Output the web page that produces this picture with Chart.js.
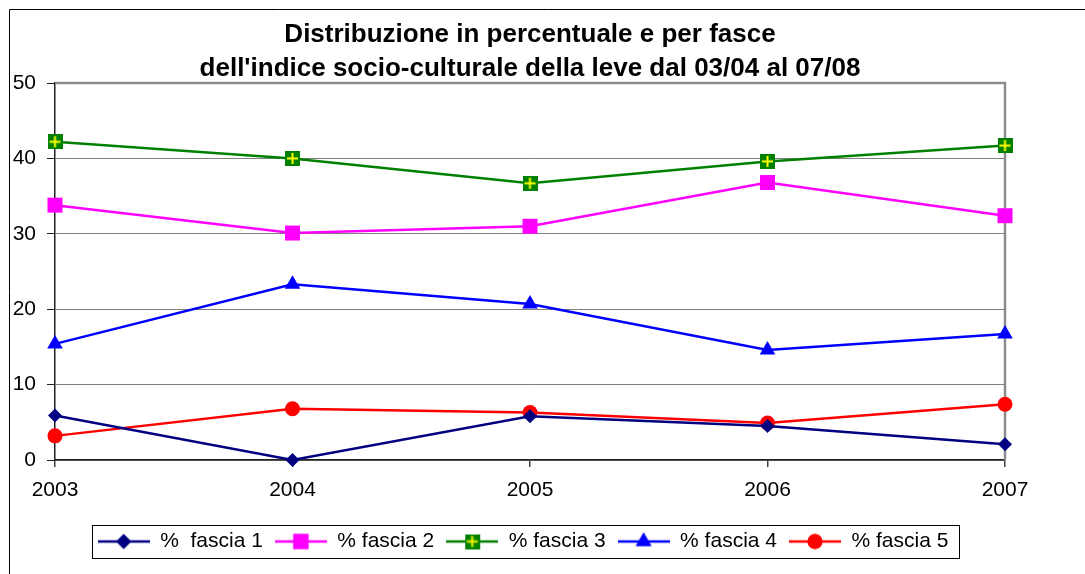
<!DOCTYPE html>
<html>
<head>
<meta charset="utf-8">
<script src="https://cdn.jsdelivr.net/npm/chart.js@4/dist/chart.umd.min.js"></script>
<style>
  html, body { margin: 0; padding: 0; background: #fff; }
  canvas { display: block; }
</style>
</head>
<body>
<canvas id="chart" width="1085" height="574"></canvas>
<script>
// ─── DATI ───
const years = ['2003', '2004', '2005', '2006', '2007'];
const fascia1 = [5.9, 0, 5.8, 4.5, 2.1];
const fascia2 = [33.8, 30.1, 31.0, 36.8, 32.4];
const fascia3 = [42.2, 40.0, 36.7, 39.6, 41.7];
const fascia4 = [15.4, 23.3, 20.7, 14.6, 16.7];
const fascia5 = [3.2, 6.8, 6.3, 4.9, 7.4];
const seriesLabels = ['%  fascia 1', '% fascia 2', '% fascia 3', '% fascia 4', '% fascia 5'];
const titleLines = ['Distribuzione in percentuale e per fasce', "dell'indice socio-culturale della leve dal 03/04 al 07/08"];

const FONT = "'Liberation Sans', Arial, sans-serif";
Chart.defaults.font.family = FONT;
Chart.defaults.color = '#000';

// marker quadrato verde con croce gialla
function crossSquare(size) {
  const c = document.createElement('canvas');
  c.width = size; c.height = size;
  const g = c.getContext('2d');
  g.fillStyle = '#008000';
  g.fillRect(0, 0, size, size);
  g.strokeStyle = '#FFFF00';
  g.lineWidth = 2;
  g.beginPath();
  g.moveTo(size / 2, 2); g.lineTo(size / 2, size - 2);
  g.moveTo(2, size / 2); g.lineTo(size - 2, size / 2);
  g.stroke();
  return c;
}

const crossMarker = crossSquare(15);

// icona legenda: linea con marker al centro
function legendIcon(color, style, radius) {
  const w = 52, h = 22;
  const c = document.createElement('canvas');
  c.width = w; c.height = h;
  const g = c.getContext('2d');
  g.strokeStyle = color;
  g.lineWidth = 2.5;
  g.beginPath();
  g.moveTo(0, h / 2); g.lineTo(w, h / 2);
  g.stroke();
  if (style === 'cross') {
    g.drawImage(crossMarker, w / 2 - 7.5, h / 2 - 7.5);
  } else {
    g.fillStyle = color;
    Chart.helpers.drawPoint(g, { pointStyle: style, radius, borderWidth: 0, rotation: 0 }, w / 2, h / 2);
    g.fill();
  }
  return c;
}

const legendIcons = [
  legendIcon('#000080', 'rectRot', 7.5),
  legendIcon('#FF00FF', 'rect', 10.6),
  legendIcon('#008000', 'cross', 0),
  legendIcon('#0000FF', 'triangle', 9),
  legendIcon('#FF0000', 'circle', 7.5)
];

function serie(label, data, color, pointStyle, radius) {
  return {
    label, data,
    borderColor: color,
    backgroundColor: color,
    pointBackgroundColor: color,
    pointBorderColor: color,
    pointBorderWidth: 0,
    borderWidth: 2.5,
    pointStyle,
    pointRadius: radius,
    pointHoverRadius: radius,
    tension: 0,
    clip: false
  };
}

const frames = {
  id: 'frames',
  afterLayout(chart) {
    // la legenda nell'originale sta un po' a sinistra
    chart.legend.left -= 7;
    chart.legend.right -= 7;
  },
  beforeDatasetsDraw(chart) {
    const { ctx, chartArea: a } = chart;
    ctx.save();
    ctx.strokeStyle = '#8c8c8c';
    ctx.lineWidth = 2.5;
    ctx.beginPath();
    ctx.moveTo(a.left, a.top);
    ctx.lineTo(a.right, a.top);
    ctx.lineTo(a.right, a.bottom);
    ctx.stroke();
    ctx.restore();
  },
  afterDraw(chart) {
    const { ctx } = chart;
    ctx.save();
    ctx.strokeStyle = '#000';
    ctx.lineWidth = 1;
    ctx.beginPath();
    ctx.moveTo(9.5, chart.height);
    ctx.lineTo(9.5, 9.5);
    ctx.lineTo(chart.width, 9.5);
    ctx.stroke();
    // riquadro legenda
    const hb = chart.legend.legendHitBoxes;
    if (hb && hb.length) {
      const left = Math.min(...hb.map(b => b.left)) - 6;
      const right = Math.max(...hb.map(b => b.left + b.width)) + 10;
      const top = hb[0].top - 6;
      const bottom = hb[0].top + hb[0].height + 6;
      ctx.strokeRect(Math.round(left) + 0.5, Math.round(top) + 0.5, Math.round(right - left), Math.round(bottom - top));
    }
    ctx.restore();
  }
};

new Chart(document.getElementById('chart'), {
  type: 'line',
  data: {
    labels: years,
    datasets: [
      serie(seriesLabels[0], fascia1, '#000080', 'rectRot', 7),
      serie(seriesLabels[1], fascia2, '#FF00FF', 'rect', 10.6),
      serie(seriesLabels[2], fascia3, '#008000', crossMarker, 7.5),
      serie(seriesLabels[3], fascia4, '#0000FF', 'triangle', 9),
      serie(seriesLabels[4], fascia5, '#FF0000', 'circle', 7.5)
    ]
  },
  options: {
    responsive: false,
    animation: false,
    devicePixelRatio: 1,
    layout: { padding: { left: 0, right: 80, top: 0, bottom: 12 } },
    plugins: {
      title: {
        display: true,
        text: titleLines,
        fullSize: false,
        color: '#000',
        font: { size: 26, weight: 'bold', lineHeight: 1.3077, family: FONT },
        padding: { top: 18, bottom: -3 }
      },
      legend: {
        position: 'bottom',
        fullSize: false,
        labels: {
          usePointStyle: true,
          pointStyleWidth: 52,
          padding: 12,
          color: '#000',
          font: { size: 21, family: FONT },
          generateLabels: chart => chart.data.datasets.map((ds, i) => ({
            text: ds.label,
            pointStyle: legendIcons[i],
            fillStyle: ds.borderColor,
            strokeStyle: ds.borderColor,
            lineWidth: 0,
            hidden: false,
            datasetIndex: i,
            fontColor: '#000'
          }))
        }
      },
      tooltip: { enabled: false }
    },
    scales: {
      x: {
        offset: false,
        grid: { drawOnChartArea: false, drawTicks: true, tickLength: 7, tickColor: '#404040', lineWidth: 1.5 },
        border: { display: true, color: '#202020', width: 1.5 },
        ticks: { color: '#000', padding: 11, maxRotation: 0, font: { size: 21, family: FONT } },
        afterFit: s => { s.height = 59; }
      },
      y: {
        min: 0,
        max: 50,
        grid: { color: '#808080', lineWidth: 1, tickLength: 8, tickColor: '#202020' },
        border: { display: true, color: '#202020', width: 1.5 },
        ticks: { stepSize: 10, color: '#000', padding: 11, font: { size: 21, family: FONT } },
        afterFit: s => { s.width = 55; }
      }
    }
  },
  plugins: [frames]
});
</script>
</body>
</html>
